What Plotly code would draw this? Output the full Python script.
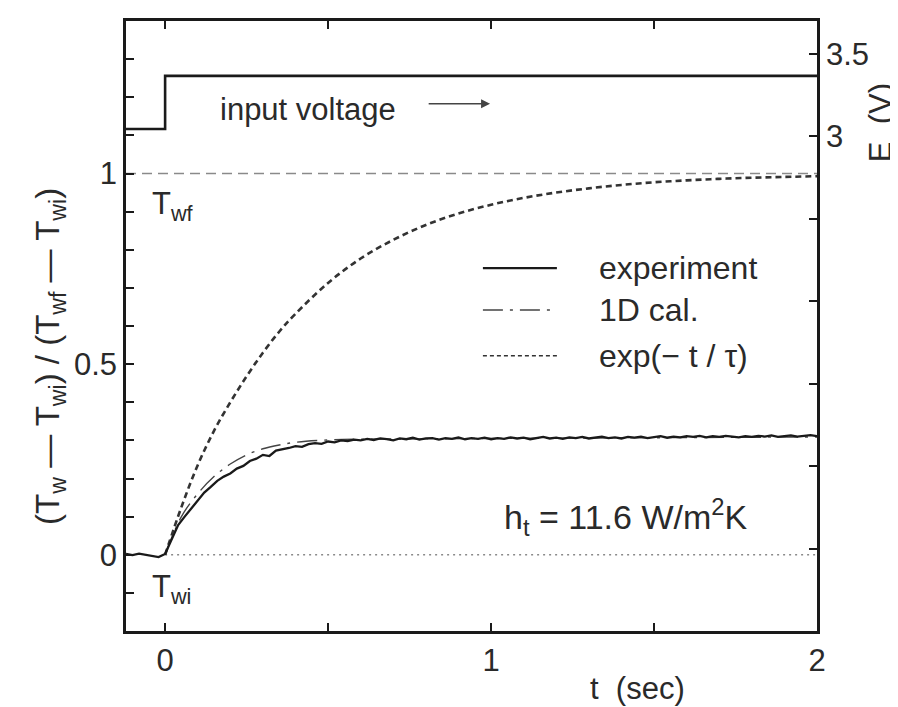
import numpy as np
import plotly.graph_objects as go

# ---------------- data ----------------
# experiment: sampled every 0.02 s from -0.12 s to 2.00 s
exp_t = np.round(np.arange(-0.12, 2.0001, 0.02), 2)
exp_v = [0.002, -0.001, 0.003, 0.000, -0.004, -0.006, 0.002,
         0.040, 0.078, 0.100, 0.121, 0.140, 0.163, 0.178, 0.194, 0.205, 0.213,
         0.226, 0.233, 0.246, 0.252, 0.262, 0.259, 0.273, 0.276, 0.280, 0.285,
         0.283, 0.290, 0.293, 0.291, 0.297, 0.295, 0.300, 0.298, 0.302, 0.300,
         0.304, 0.301, 0.305, 0.303, 0.300, 0.305, 0.303, 0.307, 0.302, 0.305,
         0.306, 0.302, 0.306, 0.304, 0.308, 0.303, 0.306, 0.304, 0.307, 0.303,
         0.306, 0.304, 0.308, 0.305, 0.307, 0.303, 0.306, 0.309, 0.305, 0.307,
         0.304, 0.308, 0.306, 0.309, 0.305, 0.307, 0.310, 0.306, 0.308, 0.305,
         0.309, 0.307, 0.310, 0.306, 0.309, 0.311, 0.307, 0.310, 0.308, 0.311,
         0.309, 0.312, 0.308, 0.311, 0.309, 0.312, 0.310, 0.308, 0.311, 0.309,
         0.312, 0.310, 0.313, 0.309, 0.311, 0.313, 0.310, 0.312, 0.314, 0.311]

cal_t = [0.0, 0.05, 0.10, 0.15, 0.20, 0.25, 0.30, 0.35, 0.40, 0.50, 0.60, 0.80, 1.00, 1.50, 2.00]
cal_v = [0.0, 0.100, 0.160, 0.205, 0.238, 0.262, 0.278, 0.288, 0.295, 0.301, 0.303, 0.304, 0.305, 0.307, 0.309]

tau_t = [0.0, 0.05, 0.10, 0.15, 0.20, 0.25, 0.30, 0.35, 0.40, 0.50, 0.60, 0.70, 0.80,
         0.90, 1.00, 1.10, 1.20, 1.30, 1.40, 1.50, 1.60, 1.70, 1.80, 1.90, 2.00]
tau_v = [0.0, 0.125, 0.235, 0.325, 0.400, 0.468, 0.530, 0.585, 0.632, 0.713, 0.777, 0.826,
         0.865, 0.895, 0.918, 0.936, 0.950, 0.961, 0.970, 0.977, 0.982, 0.986, 0.989, 0.991, 0.993]

volt_t = [-0.12, 0.0, 0.0, 2.0]
volt_E = [3.045, 3.045, 3.367, 3.367]

ref_t = [-0.12, 2.0]
final_v = [1.0, 1.0]
zero_t = [0.0, 2.0]
zero_v = [0.0, 0.0]

x_ticks = [0, 1, 2]
x_text = ["0", "1", "2"]
y_ticks = [0, 0.5, 1]
y_text = ["0", "0.5", "1"]
e_ticks = [3, 3.5]
e_text = ["3", "3.5"]

# legend entries: (label, dash, width, color, y position)
legend_items = [("experiment", "solid", 2.3, "#1a1a1a", 0.752),
                ("1D cal.", "20px,7px,3px,7px", 1.4, "#444444", 0.642),
                ("exp(\u2212 t / \u03c4)", "4px,3px", 1.4, "#333333", 0.522)]

FONT = "Liberation Sans, Arial, Helvetica, sans-serif"
INK = "#2a2a2a"

fig = go.Figure()
fig.add_trace(go.Scatter(x=ref_t, y=final_v, mode="lines",
                         line=dict(color="#8a8a8a", width=1.6, dash="10px,6px")))
fig.add_trace(go.Scatter(x=zero_t, y=zero_v, mode="lines",
                         line=dict(color="#8a8a8a", width=1.5, dash="2px,4px")))
fig.add_trace(go.Scatter(x=tau_t, y=tau_v, mode="lines", line_shape="spline",
                         line=dict(color="#333333", width=2.6, dash="6px,4px")))
fig.add_trace(go.Scatter(x=cal_t, y=cal_v, mode="lines", line_shape="spline",
                         line=dict(color="#444444", width=1.4, dash="20px,7px,3px,7px")))
fig.add_trace(go.Scatter(x=exp_t, y=exp_v, mode="lines",
                         line=dict(color="#1a1a1a", width=2.3)))
fig.add_trace(go.Scatter(x=volt_t, y=volt_E, mode="lines", yaxis="y2",
                         line=dict(color="#1a1a1a", width=2.6)))

# legend samples
for label, dash, w, col, yy in legend_items:
    fig.add_shape(type="line", xref="x", yref="y", x0=0.975, x1=1.202, y0=yy, y1=yy,
                  line=dict(color=col, width=w, dash=dash))
    fig.add_annotation(x=1.325, y=yy, xref="x", yref="y", text=label, showarrow=False,
                       xanchor="left", yanchor="middle", font=dict(size=32, color=INK, family=FONT))

# text annotations
fig.add_annotation(x=0.163, y=1.167, text="input voltage", showarrow=False, xanchor="left",
                   yanchor="middle", font=dict(size=31, color=INK, family=FONT))
fig.add_annotation(x=0.997, y=1.183, ax=0.804, ay=1.183, axref="x", ayref="y", text="",
                   showarrow=True, arrowhead=2, arrowsize=1.2, arrowwidth=1.5, arrowcolor="#444444")
fig.add_annotation(x=-0.046, y=0.915, text="T<sub>wf</sub>", showarrow=False, xanchor="left",
                   yanchor="middle", font=dict(size=31, color=INK, family=FONT))
fig.add_annotation(x=-0.046, y=-0.09, text="T<sub>wi</sub>", showarrow=False, xanchor="left",
                   yanchor="middle", font=dict(size=31, color=INK, family=FONT))
fig.add_annotation(x=1.034, y=0.10, text="h<sub>t</sub> = 11.6 W/m<sup>2</sup>K", showarrow=False,
                   xanchor="left", yanchor="middle", font=dict(size=34, color=INK, family=FONT))
fig.add_annotation(x=1.448, y=-0.095, xref="x", yref="paper", text="t  (sec)", showarrow=False,
                   xanchor="center", yanchor="middle", font=dict(size=31, color=INK, family=FONT))
fig.add_annotation(x=1.091, y=0.834, xref="paper", yref="paper", text="E  (V)", showarrow=False,
                   textangle=-90, xanchor="center", yanchor="middle",
                   font=dict(size=31, color=INK, family=FONT))
fig.add_annotation(x=-0.11, y=0.451, xref="paper", yref="paper",
                   text="(T<sub>w</sub> \u2014 T<sub>wi</sub>) / (T<sub>wf</sub> \u2014 T<sub>wi</sub>)",
                   showarrow=False, textangle=-90, xanchor="center", yanchor="middle",
                   font=dict(size=33, color=INK, family=FONT))

axis_common = dict(showgrid=False, zeroline=False, showline=True, linecolor="#1a1a1a",
                   linewidth=2.6, ticks="inside", ticklen=8, tickwidth=2, tickcolor="#1a1a1a",
                   tickfont=dict(size=31, color=INK, family=FONT))

def minor(step):
    return dict(tick0=0, dtick=step, ticks="inside", ticklen=8, tickwidth=2,
                tickcolor="#1a1a1a", showgrid=False)

fig.update_layout(
    width=890, height=699,
    margin=dict(l=118, r=81, t=10, b=76),
    paper_bgcolor="white", plot_bgcolor="white",
    showlegend=False,
    xaxis=dict(range=[-0.12, 2.0], tickvals=x_ticks, ticktext=x_text, mirror="ticks",
               minor=minor(0.5), **axis_common),
    yaxis=dict(range=[-0.2, 1.4], tickvals=y_ticks, ticktext=y_text, minor=minor(0.1),
               **axis_common),
    yaxis2=dict(range=[0, 3.7], overlaying="y", side="right", tickvals=e_ticks,
                ticktext=e_text, minor=minor(0.5), **axis_common),
)

fig.write_html("out.html")
